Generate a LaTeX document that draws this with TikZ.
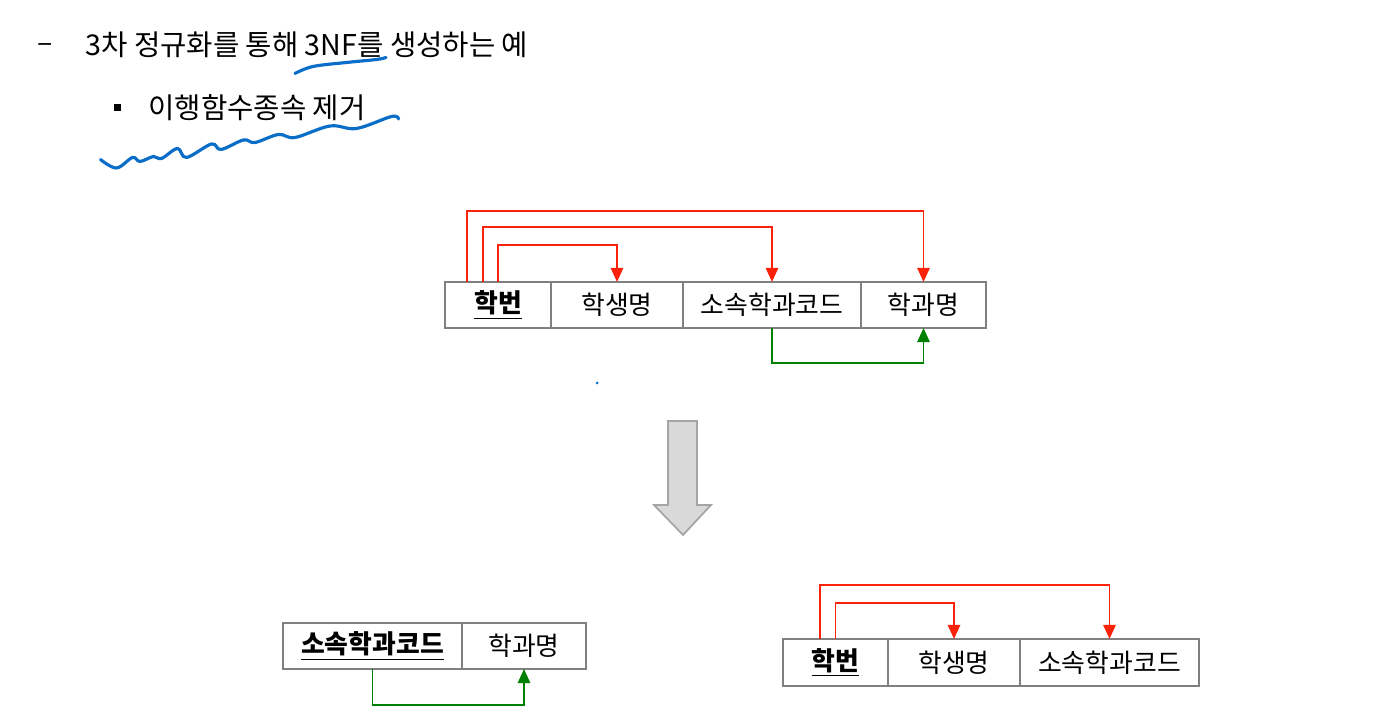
\documentclass[tikz,border=0pt]{standalone}
\usepackage{fontspec}
\setmainfont{Noto Sans CJK KR}
\usetikzlibrary{arrows.meta}
\definecolor{cellline}{RGB}{128,128,128}
\definecolor{fdred}{RGB}{250,35,10}
\definecolor{fdgreen}{RGB}{0,128,0}
\definecolor{inkblue}{RGB}{10,110,200}
\definecolor{arrowfill}{RGB}{217,217,217}
\definecolor{arrowline}{RGB}{165,165,165}

\begin{document}
\begin{tikzpicture}[
  font=\fontsize{14.7}{17}\selectfont,
  cell/.style={
    draw=cellline, line width=1.1pt, minimum height=9.2mm,
    inner sep=0pt, outer sep=0pt
  },
  key/.style={font=\fontsize{14.7}{17}\selectfont\bfseries},
  txt/.style={anchor=west, inner sep=0pt, font=\fontsize{16.3}{19}\selectfont},
  fd/.style={draw=fdred, line width=1.1pt, -{Triangle[width=7pt,length=8pt]}},
  tfd/.style={draw=fdgreen, line width=1.1pt, -{Triangle[width=7pt,length=8pt]}},
  ink/.style={draw=inkblue, line width=1.8pt, line cap=round, line join=round},
]
\useasboundingbox (0,0) rectangle (27.52,14.36);

% ---- Heading ----
\node (dash)  at (0.90,13.40) [txt, anchor=center] {–};
\node (title) at (1.70,13.46) [txt] {3차 정규화를 통해 3NF를 생성하는 예};
\node (bul)   at (2.34,12.20) [fill, minimum size=1.4mm, inner sep=0pt] {};
\node (sub)   at (2.96,12.20) [txt] {이행함수종속 제거};

% ---- Pen marks ----
\draw[ink] plot[smooth, tension=0.6] coordinates {
  (5.90,12.89) (6.26,13.03) (6.93,13.11) (7.53,13.17) (7.72,13.21)};
\draw[ink] plot[smooth, tension=0.6] coordinates {
  (2.01,11.17) (2.33,11.00) (2.65,11.21) (2.80,11.13) (3.07,11.23)
  (3.23,11.19) (3.55,11.39) (3.73,11.21) (4.23,11.48) (4.42,11.37)
  (4.87,11.56) (5.10,11.51) (5.57,11.67) (5.90,11.61) (6.60,11.84)
  (7.13,11.79) (7.83,12.03) (7.97,11.98)};
\fill[inkblue] (11.94,6.70) circle (0.03);

% ---- Relation before decomposition ----
\node (hb) at ( 9.96,8.26) [cell, minimum width=2.12cm, key] {\underline{학번}};
\node (hs) at (12.34,8.26) [cell, minimum width=2.64cm] {학생명};
\node (sc) at (15.44,8.26) [cell, minimum width=3.56cm] {소속학과코드};
\node (hm) at (18.47,8.26) [cell, minimum width=2.50cm] {학과명};

\foreach \dx/\h/\t in {-0.62/1.42/hm, -0.30/1.10/sc, 0/0.74/hs}
  \draw[fd] ([xshift=\dx cm]hb.north) -- ++(0,\h) -| (\t.north);
\draw[tfd] (sc.south) -- ++(0,-0.70) -| (hm.south);

% ---- Big arrow ----
\draw[fill=arrowfill, draw=arrowline, line width=1pt]
  (13.36,5.94) -- (13.94,5.94) -- (13.94,4.26) -- (14.22,4.26)
  -- (13.66,3.66) -- (13.08,4.26) -- (13.36,4.26) -- cycle;

% ---- Relations after decomposition ----
\node (sc2) at ( 7.45,1.44) [cell, minimum width=3.58cm, key] {\underline{소속학과코드}};
\node (hm2) at (10.48,1.44) [cell, minimum width=2.48cm] {학과명};
\draw[tfd] (sc2.south) -- ++(0,-0.72) -| (hm2.south);

\node (hb3) at (16.71,1.11) [cell, minimum width=2.10cm, minimum height=9.4mm, key] {\underline{학번}};
\node (hs3) at (19.08,1.11) [cell, minimum width=2.64cm, minimum height=9.4mm] {학생명};
\node (sc3) at (22.19,1.11) [cell, minimum width=3.58cm, minimum height=9.4mm] {소속학과코드};

\foreach \dx/\h/\t in {-0.31/1.08/sc3, 0/0.72/hs3}
  \draw[fd] ([xshift=\dx cm]hb3.north) -- ++(0,\h) -| (\t.north);

\end{tikzpicture}
\end{document}
